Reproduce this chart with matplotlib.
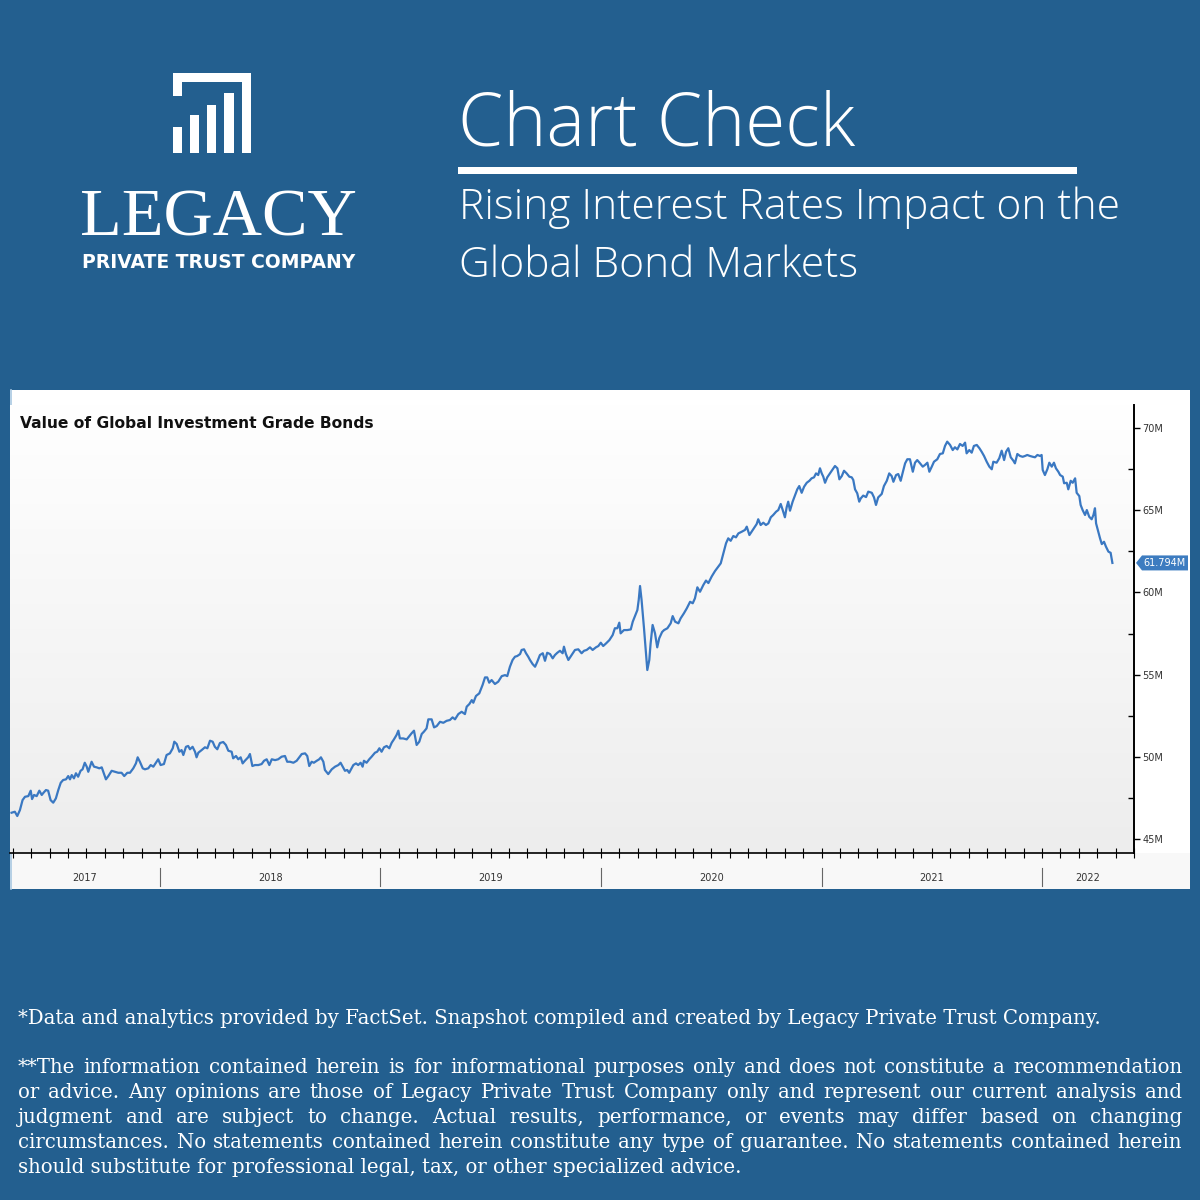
import matplotlib
matplotlib.use("Agg")
import matplotlib.pyplot as plt
import numpy as np
from matplotlib.patches import Rectangle, Polygon
from matplotlib.colors import LinearSegmentedColormap

bg_blue = "#235f8f"
line_blue = "#3a78c2"

# value of global investment grade bonds, decimal year -> $M
dates = [
    2017.327, 2017.342, 2017.353, 2017.365, 2017.377, 2017.388, 2017.403, 2017.414, 2017.420, 2017.429,
    2017.441, 2017.453, 2017.464, 2017.471, 2017.483, 2017.493, 2017.504, 2017.516, 2017.528, 2017.539,
    2017.550, 2017.561, 2017.574, 2017.584, 2017.592, 2017.600, 2017.610, 2017.619, 2017.629, 2017.640,
    2017.649, 2017.659, 2017.668, 2017.675, 2017.690, 2017.701, 2017.713, 2017.725, 2017.736, 2017.743,
    2017.755, 2017.766, 2017.781, 2017.796, 2017.811, 2017.826, 2017.838, 2017.852, 2017.864, 2017.879,
    2017.891, 2017.899, 2017.909, 2017.922, 2017.932, 2017.947, 2017.958, 2017.970, 2017.982, 2017.992,
    2018.003, 2018.018, 2018.030, 2018.045, 2018.058, 2018.065, 2018.076, 2018.088, 2018.098, 2018.106,
    2018.118, 2018.128, 2018.136, 2018.148, 2018.159, 2018.166, 2018.174, 2018.189, 2018.204, 2018.215,
    2018.227, 2018.239, 2018.249, 2018.260, 2018.272, 2018.287, 2018.299, 2018.310, 2018.325, 2018.332,
    2018.345, 2018.355, 2018.366, 2018.375, 2018.385, 2018.400, 2018.408, 2018.419, 2018.431, 2018.446,
    2018.461, 2018.472, 2018.484, 2018.496, 2018.507, 2018.522, 2018.536, 2018.552, 2018.567, 2018.577,
    2018.590, 2018.605, 2018.620, 2018.632, 2018.643, 2018.658, 2018.668, 2018.677, 2018.688, 2018.698,
    2018.711, 2018.722, 2018.730, 2018.741, 2018.748, 2018.763, 2018.779, 2018.794, 2018.809, 2018.819,
    2018.829, 2018.839, 2018.849, 2018.858, 2018.869, 2018.877, 2018.889, 2018.899, 2018.910, 2018.919,
    2018.925, 2018.937, 2018.949, 2018.960, 2018.975, 2018.985, 2018.995, 2019.005, 2019.016, 2019.028,
    2019.040, 2019.051, 2019.061, 2019.073, 2019.081, 2019.088, 2019.103, 2019.119, 2019.131, 2019.141,
    2019.152, 2019.164, 2019.176, 2019.187, 2019.197, 2019.209, 2019.217, 2019.232, 2019.243, 2019.255,
    2019.270, 2019.285, 2019.300, 2019.315, 2019.327, 2019.338, 2019.353, 2019.368, 2019.383, 2019.391,
    2019.403, 2019.414, 2019.421, 2019.433, 2019.448, 2019.463, 2019.474, 2019.484, 2019.493, 2019.504,
    2019.519, 2019.534, 2019.550, 2019.565, 2019.575, 2019.587, 2019.599, 2019.610, 2019.620, 2019.633,
    2019.640, 2019.651, 2019.660, 2019.670, 2019.678, 2019.690, 2019.701, 2019.711, 2019.723, 2019.736,
    2019.746, 2019.756, 2019.769, 2019.781, 2019.791, 2019.802, 2019.814, 2019.826, 2019.832, 2019.841,
    2019.852, 2019.867, 2019.882, 2019.897, 2019.912, 2019.923, 2019.935, 2019.950, 2019.962, 2019.977,
    2019.988, 2019.999, 2020.010, 2020.023, 2020.038, 2020.053, 2020.063, 2020.074, 2020.083, 2020.089,
    2020.104, 2020.119, 2020.135, 2020.144, 2020.154, 2020.165, 2020.171, 2020.177, 2020.184, 2020.195,
    2020.204, 2020.210, 2020.219, 2020.225, 2020.234, 2020.245, 2020.255, 2020.264, 2020.277, 2020.286,
    2020.301, 2020.316, 2020.325, 2020.336, 2020.351, 2020.361, 2020.376, 2020.389, 2020.404, 2020.416,
    2020.426, 2020.437, 2020.449, 2020.464, 2020.476, 2020.487, 2020.502, 2020.517, 2020.532, 2020.543,
    2020.555, 2020.567, 2020.577, 2020.588, 2020.600, 2020.612, 2020.623, 2020.638, 2020.653, 2020.661,
    2020.673, 2020.683, 2020.694, 2020.706, 2020.713, 2020.724, 2020.736, 2020.748, 2020.759, 2020.770,
    2020.781, 2020.794, 2020.804, 2020.815, 2020.824, 2020.834, 2020.842, 2020.849, 2020.857, 2020.869,
    2020.880, 2020.890, 2020.899, 2020.910, 2020.921, 2020.933, 2020.945, 2020.955, 2020.966, 2020.975,
    2020.985, 2020.993, 2021.001, 2021.008, 2021.016, 2021.026, 2021.038, 2021.051, 2021.061, 2021.072,
    2021.081, 2021.092, 2021.102, 2021.114, 2021.126, 2021.137, 2021.144, 2021.152, 2021.162, 2021.171,
    2021.178, 2021.189, 2021.202, 2021.212, 2021.228, 2021.238, 2021.247, 2021.257, 2021.273, 2021.283,
    2021.296, 2021.307, 2021.318, 2021.326, 2021.338, 2021.348, 2021.359, 2021.368, 2021.379, 2021.389,
    2021.401, 2021.414, 2021.424, 2021.434, 2021.447, 2021.459, 2021.469, 2021.480, 2021.489, 2021.500,
    2021.510, 2021.525, 2021.537, 2021.550, 2021.560, 2021.570, 2021.583, 2021.595, 2021.605, 2021.616,
    2021.628, 2021.640, 2021.651, 2021.658, 2021.670, 2021.681, 2021.691, 2021.704, 2021.716, 2021.726,
    2021.737, 2021.749, 2021.761, 2021.772, 2021.779, 2021.794, 2021.806, 2021.817, 2021.828, 2021.837,
    2021.847, 2021.858, 2021.870, 2021.877, 2021.888, 2021.900, 2021.912, 2021.923, 2021.933, 2021.945,
    2021.958, 2021.968, 2021.979, 2021.991, 2021.998, 2022.003, 2022.013, 2022.024, 2022.033, 2022.044,
    2022.054, 2022.063, 2022.074, 2022.082, 2022.094, 2022.100, 2022.112, 2022.119, 2022.130, 2022.139,
    2022.150, 2022.157, 2022.169, 2022.175, 2022.184, 2022.195, 2022.203, 2022.214, 2022.225, 2022.233,
    2022.240, 2022.245, 2022.255, 2022.263, 2022.271, 2022.281, 2022.290, 2022.301, 2022.311, 2022.319,
]
values = [
    46.60, 46.66, 46.40, 46.76, 47.37, 47.57, 47.61, 47.94, 47.43, 47.68,
    47.61, 47.94, 47.68, 47.80, 47.98, 47.94, 47.37, 47.21, 47.47, 47.98,
    48.42, 48.59, 48.63, 48.83, 48.63, 48.89, 48.69, 49.00, 48.79, 49.15,
    49.24, 49.64, 49.40, 49.09, 49.70, 49.40, 49.36, 49.30, 49.36, 49.09,
    48.63, 48.83, 49.15, 49.09, 49.03, 49.03, 48.83, 49.03, 49.03, 49.30,
    49.60, 49.97, 49.70, 49.30, 49.24, 49.30, 49.50, 49.40, 49.64, 49.85,
    49.50, 49.56, 50.11, 50.21, 50.52, 50.92, 50.78, 50.31, 50.41, 50.11,
    50.61, 50.66, 50.46, 50.61, 50.31, 49.97, 50.25, 50.41, 50.58, 50.52,
    50.98, 50.92, 50.61, 50.46, 50.84, 50.90, 50.72, 50.37, 50.31, 49.91,
    50.05, 49.85, 49.97, 49.60, 49.76, 49.97, 50.17, 49.44, 49.50, 49.50,
    49.56, 49.76, 49.85, 49.50, 49.85, 49.80, 49.85, 50.01, 50.05, 49.70,
    49.70, 49.64, 49.76, 49.97, 50.17, 50.21, 50.05, 49.44, 49.70, 49.64,
    49.76, 49.85, 49.97, 49.70, 49.20, 48.95, 49.24, 49.40, 49.50, 49.64,
    49.40, 49.15, 49.20, 49.03, 49.30, 49.50, 49.60, 49.50, 49.64, 49.40,
    49.76, 49.64, 49.85, 50.01, 50.25, 50.31, 50.52, 50.31, 50.58, 50.66,
    50.52, 50.86, 51.06, 51.33, 51.59, 51.12, 51.12, 51.06, 51.26, 51.43,
    51.59, 50.72, 50.92, 51.39, 51.53, 51.73, 52.28, 52.28, 51.79, 51.87,
    52.13, 52.07, 52.19, 52.24, 52.40, 52.28, 52.60, 52.74, 52.60, 53.05,
    53.21, 53.45, 53.29, 53.70, 53.86, 54.37, 54.83, 54.83, 54.51, 54.67,
    54.43, 54.57, 54.91, 54.97, 54.91, 55.48, 55.89, 56.09, 56.13, 56.25,
    56.50, 56.54, 56.30, 56.09, 55.89, 55.64, 55.48, 55.78, 56.19, 56.30,
    55.84, 56.33, 56.25, 55.99, 56.19, 56.33, 56.45, 56.30, 56.70, 56.25,
    55.89, 56.19, 56.50, 56.54, 56.30, 56.45, 56.50, 56.66, 56.50, 56.66,
    56.74, 56.94, 56.74, 56.90, 57.10, 57.41, 57.82, 57.82, 58.16, 57.51,
    57.71, 57.71, 57.75, 58.22, 58.56, 58.93, 59.54, 60.39, 59.54, 57.82,
    56.30, 55.28, 55.89, 56.90, 58.02, 57.51, 56.66, 57.21, 57.59, 57.71,
    57.82, 58.12, 58.56, 58.22, 58.12, 58.42, 58.73, 59.03, 59.43, 59.34,
    59.64, 60.31, 60.04, 60.45, 60.72, 60.57, 60.97, 61.30, 61.57, 61.77,
    62.38, 62.99, 63.29, 63.14, 63.43, 63.35, 63.59, 63.69, 63.80, 64.00,
    63.49, 63.69, 63.90, 64.16, 64.45, 64.10, 64.24, 64.10, 64.20, 64.57,
    64.71, 64.91, 65.01, 65.38, 65.01, 64.57, 65.18, 65.52, 64.97, 65.52,
    65.92, 66.27, 66.47, 66.06, 66.43, 66.67, 66.79, 66.94, 67.00, 67.24,
    67.14, 67.55, 67.24, 67.04, 66.67, 67.00, 67.24, 67.49, 67.69, 67.55,
    66.88, 67.08, 67.40, 67.24, 67.04, 67.00, 66.84, 66.27, 66.03, 65.52,
    65.72, 65.89, 65.80, 66.13, 66.06, 65.78, 65.32, 65.78, 65.99, 66.47,
    66.79, 67.24, 67.08, 66.73, 67.14, 67.20, 66.79, 67.28, 67.85, 68.10,
    68.10, 67.34, 67.89, 68.05, 67.85, 67.65, 67.75, 67.89, 67.34, 67.65,
    67.95, 68.10, 68.42, 68.46, 68.91, 69.17, 68.97, 68.66, 68.83, 68.70,
    69.03, 68.91, 69.11, 68.46, 68.66, 68.50, 68.91, 68.97, 68.77, 68.56,
    68.30, 67.95, 67.65, 67.49, 67.95, 67.89, 68.16, 68.62, 68.05, 68.56,
    68.77, 68.22, 68.01, 67.85, 68.42, 68.30, 68.25, 68.30, 68.36, 68.30,
    68.25, 68.22, 68.36, 68.30, 68.36, 67.45, 67.14, 67.49, 67.89, 67.65,
    67.89, 67.55, 67.34, 67.14, 67.04, 66.64, 66.67, 66.27, 66.79, 66.67,
    66.94, 66.06, 65.86, 65.32, 65.01, 64.71, 65.01, 64.60, 64.45, 64.71,
    65.12, 64.20, 63.69, 63.29, 62.94, 63.08, 62.78, 62.48, 62.41, 61.794,
]

last_value = 61.794
y_ticks = [45, 50, 55, 60, 65, 70]
y_minor = [47.5, 52.5, 57.5, 62.5, 67.5]
years = [2017, 2018, 2019, 2020, 2021, 2022]

chart_title = "Value of Global Investment Grade Bonds"
head_title = "Chart Check"
head_sub = ["Rising Interest Rates Impact on the", "Global Bond Markets"]
note_line = ("*Data and analytics provided by FactSet. Snapshot compiled and created "
             "by Legacy Private Trust Company.")
para_lines = [
    "**The information contained herein is for informational purposes only and does not constitute a recommendation",
    "or advice. Any opinions are those of Legacy Private Trust Company only and represent our current analysis and",
    "judgment and are subject to change. Actual results, performance, or events may differ based on changing",
    "circumstances. No statements contained herein constitute any type of guarantee. No statements contained herein",
    "should substitute for professional legal, tax, or other specialized advice.",
]

W, H = 1200, 1200
fig = plt.figure(figsize=(12, 12), dpi=100)
fig.patch.set_facecolor(bg_blue)
renderer = fig.canvas.get_renderer()

# full-figure layer in pixel coords for the page decoration
ax_bg = fig.add_axes([0, 0, 1, 1], zorder=0)
ax_bg.set_xlim(0, W)
ax_bg.set_ylim(H, 0)
ax_bg.axis("off")


def fit_size(s, target, size=20, **kw):
    t = ax_bg.text(0, 0, s, fontsize=size, **kw)
    w = t.get_window_extent(renderer).width
    t.remove()
    return size * target / w


# chart panel
ax_bg.add_patch(Rectangle((10, 390), 1180, 499, facecolor="white", edgecolor="none"))
ax_bg.add_patch(Rectangle((10, 853), 1180, 36, facecolor="#f8f8f8", edgecolor="none"))
ax_bg.plot([10.5, 10.5], [390, 889], color="#a9c8e2", lw=1.2)

# logo mark
for x0, y0, w, h in [(173, 73, 77, 9), (242, 73, 9, 80), (173, 73, 9, 23),
                     (173, 127, 9, 26), (190, 115, 8.5, 38), (207, 105, 9, 48), (224, 93, 9.5, 60)]:
    ax_bg.add_patch(Rectangle((x0, y0), w, h, facecolor="white", edgecolor="none"))

fs = fit_size("LEGACY", 277, family="Liberation Serif")
ax_bg.text(80, 235, "LEGACY", fontsize=fs, family="Liberation Serif", color="white", va="baseline")
fs = fit_size("PRIVATE TRUST COMPANY", 272, family="DejaVu Sans", weight="bold")
ax_bg.text(82, 268, "PRIVATE TRUST COMPANY", fontsize=fs, family="DejaVu Sans", weight="bold",
           color="white", va="baseline")

# header
fs = fit_size(head_title, 398, family="Open Sans", weight="light")
ax_bg.text(458, 145, head_title, fontsize=fs, family="Open Sans", weight="light", color="white", va="baseline")
ax_bg.add_patch(Rectangle((458, 167), 619, 7, facecolor="white", edgecolor="none"))
fs = fit_size(head_sub[0], 662, family="Open Sans", weight="light")
for i, s in enumerate(head_sub):
    ax_bg.text(459, 219 + 58 * i, s, fontsize=fs, family="Open Sans", weight="light",
               color="white", va="baseline")

# chart
x_min, x_max = 2017.32, 2022.417
y_min, y_max = 44.15, 71.40
ax = fig.add_axes([10 / W, 1 - 853 / H, 1124 / W, 448 / H], zorder=2)
ax.set_facecolor("none")
grad = np.linspace(0, 1, 256).reshape(-1, 1)
cmap = LinearSegmentedColormap.from_list("bgfade", ["#ededed", "#ffffff"])
ax.imshow(grad, extent=[0, 1, 0, 1], transform=ax.transAxes, cmap=cmap,
          aspect="auto", origin="lower", zorder=0)
ax.plot(dates, values, color=line_blue, lw=1.6, zorder=3, solid_joinstyle="round")
ax.set_xlim(x_min, x_max)
ax.set_ylim(y_min, y_max)

for side in ["left", "top"]:
    ax.spines[side].set_visible(False)
ax.spines["right"].set_linewidth(1.4)
ax.spines["bottom"].set_linewidth(1.2)

ax.yaxis.tick_right()
ax.set_yticks(y_ticks)
ax.set_yticklabels([f"{v}M" for v in y_ticks])
ax.set_yticks(y_minor, minor=True)
ax.tick_params(axis="y", which="major", direction="out", length=4, width=1, pad=2,
               labelsize=7, labelcolor="#333333")
ax.tick_params(axis="y", which="minor", direction="in", length=4, width=1)

months = [yr + m / 12 for yr in range(2017, 2023) for m in range(12)]
ax.set_xticks([m for m in months if x_min <= m <= x_max + 0.001])
ax.tick_params(axis="x", which="major", direction="inout", length=7, width=0.8, labelbottom=False)

xt = ax.get_xaxis_transform()
for yr in years:
    if x_min < yr < x_max:
        ax.plot([yr, yr], [-0.034, -0.074], transform=xt, color="#666666", lw=0.8, clip_on=False)
    c = (max(yr, x_min) + min(yr + 1, x_max)) / 2
    ax.text(c, -0.056, str(yr), transform=xt, ha="center", va="center", fontsize=7, color="#333333")

# chart title sits on top of the plot background
fs = fit_size(chart_title, 353, weight="bold")
ax.text(20, 424, chart_title, transform=ax_bg.transData, fontsize=fs, weight="bold",
        color="#111111", va="center", zorder=5)

# last value tag
y_tag = H - ax.transData.transform((x_max, last_value))[1]
ax_bg.add_patch(Polygon([(1136, y_tag), (1142, y_tag - 7.5), (1188, y_tag - 7.5),
                         (1188, y_tag + 7.5), (1142, y_tag + 7.5)],
                        closed=True, facecolor="#3d7cc0", edgecolor="none"))
ax_bg.text(1165, y_tag, f"{last_value:.3f}M", fontsize=7, color="white", ha="center", va="center")

# footer notes
foot_font = "DejaVu Serif"
fs = fit_size(note_line, 1079, family=foot_font)
ax_bg.text(18, 1024, note_line, fontsize=fs, family=foot_font, color="white", va="baseline")
x_l, x_r = 18, 1182
for i, line in enumerate(para_lines):
    yb = 1073 + 25 * i
    if i == len(para_lines) - 1:
        ax_bg.text(x_l, yb, line, fontsize=fs, family=foot_font, color="white", va="baseline")
        continue
    words = line.split(" ")
    arts = [ax_bg.text(0, yb, w, fontsize=fs, family=foot_font, color="white", va="baseline") for w in words]
    widths = [a.get_window_extent(renderer).width for a in arts]
    gap = (x_r - x_l - sum(widths)) / (len(words) - 1)
    x = x_l
    for a, w in zip(arts, widths):
        a.set_x(x)
        x += w + gap

fig.savefig("out.png", dpi=100, facecolor=fig.get_facecolor())
